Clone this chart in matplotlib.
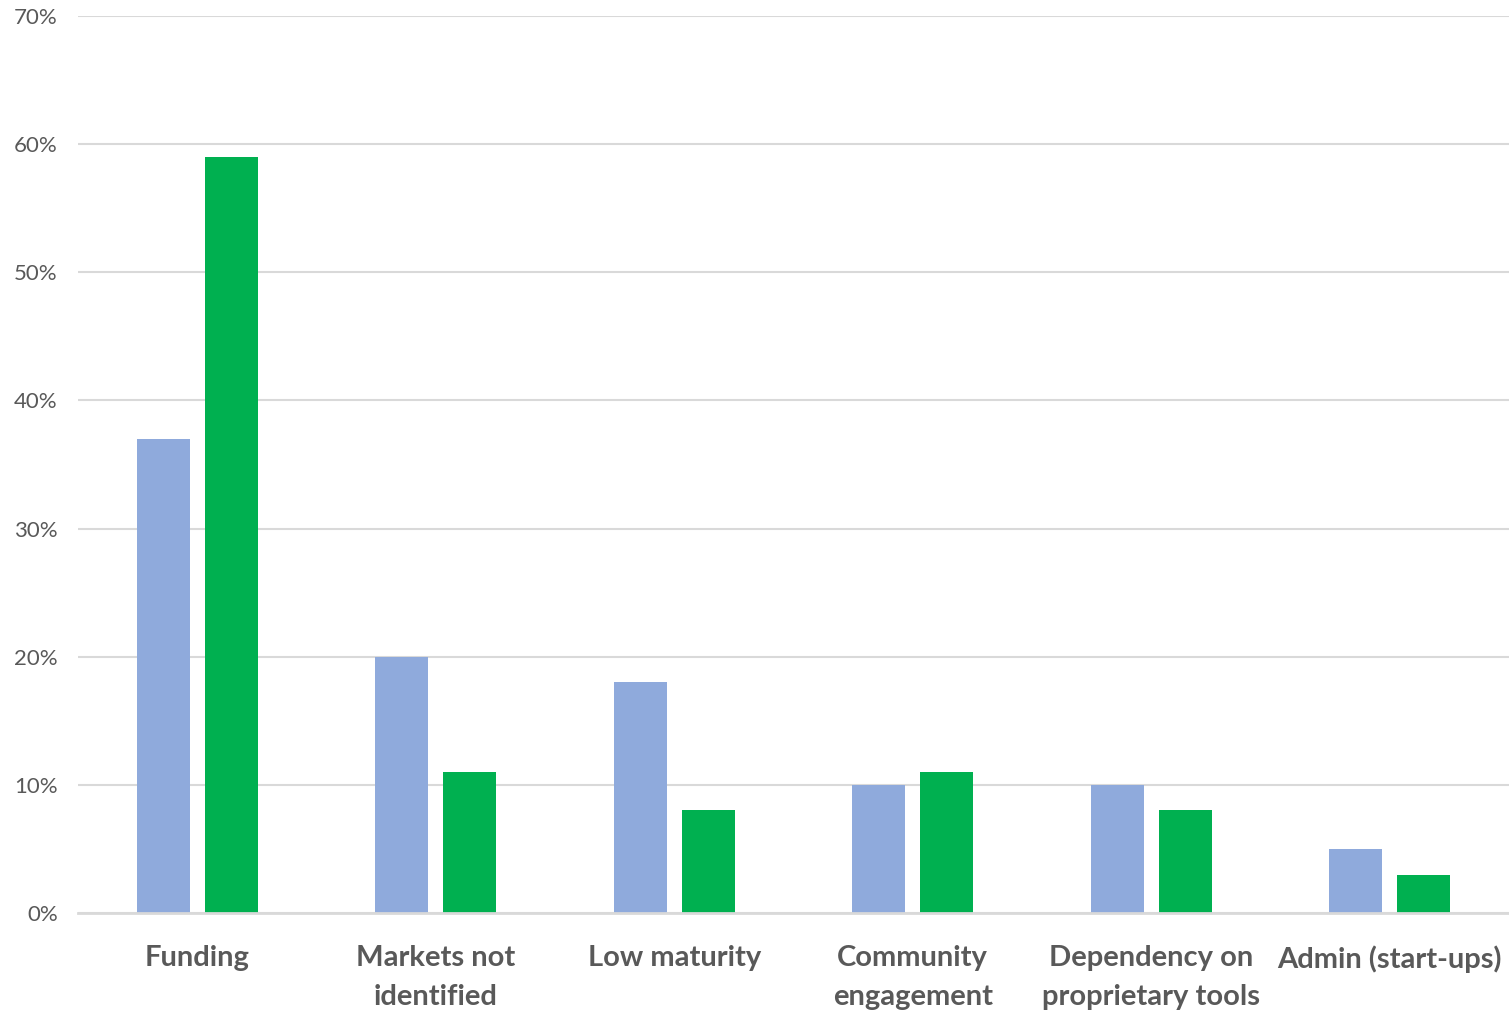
import matplotlib
matplotlib.use("Agg")
import matplotlib.pyplot as plt
import numpy as np
from matplotlib.ticker import FuncFormatter

categories = ["Funding", "Markets not\nidentified", "Low maturity",
              "Community\nengagement", "Dependency on\nproprietary tools",
              "Admin (start-ups)"]
series_a = [37, 20, 18, 10, 10, 5]
series_b = [59, 11, 8, 11, 8, 3]
y_ticks = [0, 10, 20, 30, 40, 50, 60, 70]

color_a = "#8FAADC"
color_b = "#00B050"
text_color = "#595959"
grid_color = "#D9D9D9"

plt.rcParams["font.family"] = ["Lato", "DejaVu Sans"]

fig = plt.figure(figsize=(15.09, 10.10), dpi=100)
ax = fig.add_axes([78 / 1509, 1 - 913 / 1010, 1 - 78 / 1509, (913 - 16) / 1010])

x = np.arange(len(categories))
width = 0.222
offset = 0.143
ax.bar(x - offset, series_a, width, color=color_a, zorder=3)
ax.bar(x + offset, series_b, width, color=color_b, zorder=3)

ax.set_xlim(-0.5, len(categories) - 0.5)
ax.set_ylim(0, 70)
ax.set_yticks(y_ticks)
ax.yaxis.set_major_formatter(FuncFormatter(lambda v, p: f"{v:.0f}%"))
ax.yaxis.grid(True, color=grid_color, linewidth=1.5, zorder=0)
ax.set_axisbelow(True)

for side in ["top", "right", "left"]:
    ax.spines[side].set_visible(False)
ax.spines["bottom"].set_color(grid_color)
ax.spines["bottom"].set_linewidth(2)
ax.spines["bottom"].set_zorder(4)

ax.tick_params(axis="y", length=0, pad=14.5, labelsize=16, labelcolor=text_color)
ax.tick_params(axis="x", length=0, pad=23)
ax.set_xticks(x)
ax.set_xticklabels(categories, fontsize=21, fontweight="bold", color=text_color,
                   linespacing=1.63)

fig.savefig("out.png", dpi=100, facecolor="white")
